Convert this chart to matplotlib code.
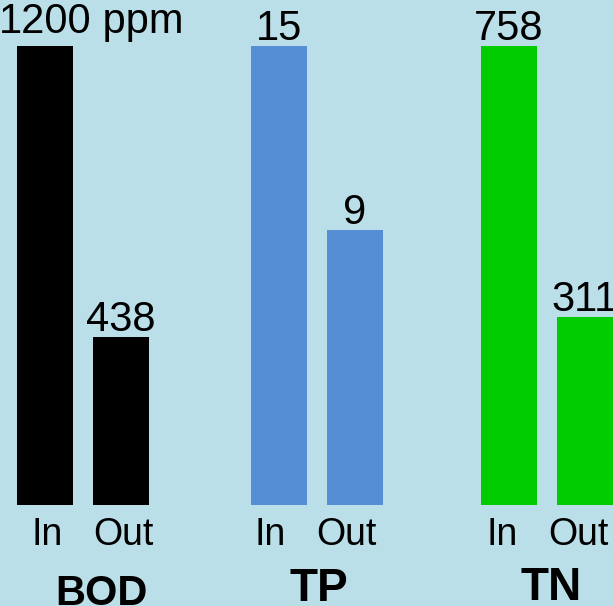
import numpy as np
import matplotlib
matplotlib.use("Agg")
import matplotlib.pyplot as plt

plt.rcParams['font.family'] = ['Liberation Sans', 'DejaVu Sans']

# data
groups = ['BOD', 'TP', 'TN']
bar_labels = ['In', 'Out']
inflow = [1200, 15, 758]
outflow = [438, 9, 311]
units = ['ppm', '', '']
colors = ['#000000', '#558ED5', '#00CC00']

bg = '#BADFE8'

fig = plt.figure(figsize=(6.13, 6.06), dpi=100, facecolor=bg)
ax = fig.add_axes([0, 0, 1, 1])
ax.set_facecolor(bg)

# layout (one x unit = spacing between In and Out bars)
group_x = [0.0, 3.08, 6.105]
bar_w = [0.73, 0.73, 0.73]
tick_shift = [0.03, -0.12, -0.09]
name_shift = [0.74, 0.525, 0.553]
name_size = [30, 33, 33]
name_y = [-0.218, -0.209, -0.207]

for i, g in enumerate(groups):
    vals = np.array([inflow[i], outflow[i]], dtype=float)
    h = vals / vals.max()  # each group on its own scale
    xs = group_x[i] + np.arange(2)
    ax.bar(xs, h, width=bar_w[i], color=colors[i], linewidth=0)
    for j in range(2):
        off = 9.4 if (j == 0 and units[i]) else 4.3
        t = ax.annotate(str(vals[j].astype(int)), (xs[j], h[j]),
                        xytext=(0, off), textcoords='offset points',
                        ha='center', va='baseline', fontsize=30,
                        annotation_clip=False)
        if j == 0 and units[i]:
            ax.annotate(' ' + units[i], xy=(1, 0), xycoords=t,
                        ha='left', va='bottom', fontsize=30,
                        annotation_clip=False)
        ax.text(xs[j] + tick_shift[i], -0.087, bar_labels[j],
                ha='center', va='baseline', fontsize=27)
    ax.text(group_x[i] + name_shift[i], name_y[i], g, ha='center',
            va='baseline', fontsize=name_size[i], fontweight='bold')

ax.set_xlim(-45 / 76, (613 - 45) / 76)
ax.set_ylim(-(606 - 505) / 459, 505 / 459)
ax.axis('off')

fig.savefig('out.png', dpi=100, facecolor=bg)
